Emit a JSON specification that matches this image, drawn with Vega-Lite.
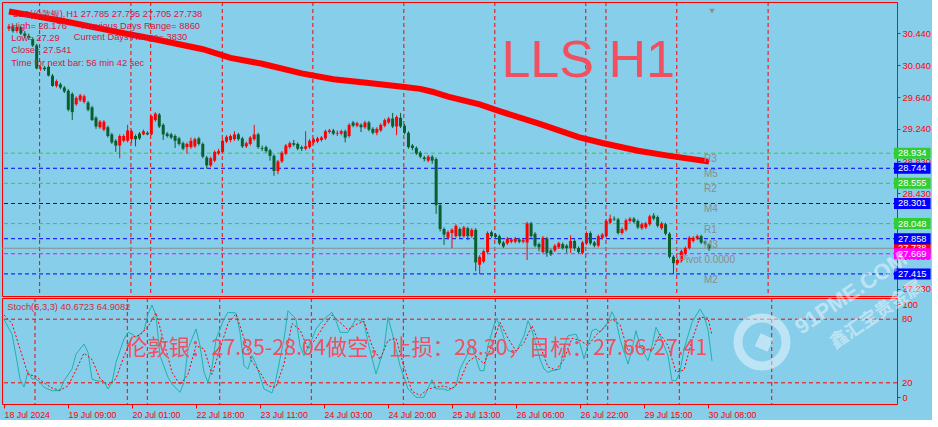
{
"$schema": "https://vega.github.io/schema/vega-lite/v6.json",
"background": "#87CEEB",
"padding": {"left": -4, "top": -1, "right": 0, "bottom": 0},
"spacing": 2,
"bounds": "flush",
"config": {
  "view": {"stroke": "#FF0000", "strokeWidth": 1},
  "font": "Liberation Sans",
  "axis": {"labelFont": "Liberation Sans", "labelColor": "#FF0000", "tickColor": "#FF0000", "domain": false, "grid": false, "labelOverlap": false}
},
"datasets": {
"bars": [
{"i":0,"o":30.50,"h":30.56,"l":30.47,"c":30.53},{"i":1,"o":30.53,"h":30.55,"l":30.45,"c":30.47},{"i":2,"o":30.47,"h":30.54,"l":30.45,"c":30.52},{"i":3,"o":30.52,"h":30.53,"l":30.42,"c":30.44},{"i":4,"o":30.44,"h":30.47,"l":30.38,"c":30.41},{"i":5,"o":30.41,"h":30.44,"l":30.36,"c":30.39},{"i":6,"o":30.37,"h":30.39,"l":30.27,"c":30.29},{"i":7,"o":30.29,"h":30.31,"l":29.99,"c":30.00},{"i":8,"o":30.00,"h":30.03,"l":29.97,"c":30.01},{"i":9,"o":30.01,"h":30.03,"l":29.97,"c":29.99},
{"i":10,"o":30.02,"h":30.04,"l":29.90,"c":29.91},{"i":11,"o":29.91,"h":29.93,"l":29.77,"c":29.78},{"i":12,"o":29.78,"h":29.86,"l":29.76,"c":29.84},{"i":13,"o":29.80,"h":29.82,"l":29.74,"c":29.76},{"i":14,"o":29.76,"h":29.78,"l":29.69,"c":29.71},{"i":15,"o":29.72,"h":29.74,"l":29.46,"c":29.48},{"i":16,"o":29.68,"h":29.70,"l":29.35,"c":29.45},{"i":17,"o":29.55,"h":29.65,"l":29.53,"c":29.63},{"i":18,"o":29.60,"h":29.68,"l":29.58,"c":29.66},{"i":19,"o":29.58,"h":29.67,"l":29.56,"c":29.65},
{"i":20,"o":29.57,"h":29.59,"l":29.46,"c":29.48},{"i":21,"o":29.51,"h":29.53,"l":29.34,"c":29.35},{"i":22,"o":29.38,"h":29.40,"l":29.24,"c":29.27},{"i":23,"o":29.26,"h":29.35,"l":29.24,"c":29.33},{"i":24,"o":29.23,"h":29.35,"l":29.21,"c":29.33},{"i":25,"o":29.26,"h":29.28,"l":29.13,"c":29.15},{"i":26,"o":29.17,"h":29.19,"l":29.05,"c":29.07},{"i":27,"o":29.09,"h":29.11,"l":28.95,"c":29.03},{"i":28,"o":29.03,"h":29.17,"l":28.87,"c":29.15},{"i":29,"o":29.09,"h":29.17,"l":29.07,"c":29.15},
{"i":30,"o":29.09,"h":29.29,"l":29.07,"c":29.22},{"i":31,"o":29.11,"h":29.23,"l":29.06,"c":29.21},{"i":32,"o":29.15,"h":29.17,"l":29.02,"c":29.11},{"i":33,"o":29.18,"h":29.20,"l":29.10,"c":29.12},{"i":34,"o":29.17,"h":29.23,"l":29.16,"c":29.21},{"i":35,"o":29.19,"h":29.21,"l":29.16,"c":29.17},{"i":36,"o":29.17,"h":29.41,"l":29.16,"c":29.40},{"i":37,"o":29.35,"h":29.45,"l":29.33,"c":29.43},{"i":38,"o":29.42,"h":29.44,"l":29.25,"c":29.27},{"i":39,"o":29.29,"h":29.31,"l":29.10,"c":29.17},
{"i":40,"o":29.18,"h":29.20,"l":29.13,"c":29.15},{"i":41,"o":29.17,"h":29.19,"l":29.11,"c":29.13},{"i":42,"o":29.15,"h":29.17,"l":29.00,"c":29.09},{"i":43,"o":29.12,"h":29.14,"l":29.03,"c":29.05},{"i":44,"o":29.06,"h":29.08,"l":28.97,"c":28.99},{"i":45,"o":29.01,"h":29.07,"l":28.93,"c":29.05},{"i":46,"o":29.01,"h":29.13,"l":28.99,"c":29.09},{"i":47,"o":29.02,"h":29.13,"l":29.00,"c":29.11},{"i":48,"o":29.12,"h":29.14,"l":29.03,"c":29.05},{"i":49,"o":29.05,"h":29.07,"l":28.87,"c":28.89},
{"i":50,"o":28.88,"h":28.90,"l":28.74,"c":28.78},{"i":51,"o":28.78,"h":28.89,"l":28.76,"c":28.87},{"i":52,"o":28.84,"h":28.97,"l":28.82,"c":28.95},{"i":53,"o":28.93,"h":28.99,"l":28.91,"c":28.96},{"i":54,"o":28.95,"h":29.11,"l":28.93,"c":29.09},{"i":55,"o":29.08,"h":29.16,"l":29.06,"c":29.14},{"i":56,"o":29.10,"h":29.17,"l":29.07,"c":29.15},{"i":57,"o":29.11,"h":29.21,"l":29.09,"c":29.17},{"i":58,"o":29.17,"h":29.19,"l":29.09,"c":29.11},{"i":59,"o":29.12,"h":29.14,"l":29.00,"c":29.02},
{"i":60,"o":29.02,"h":29.08,"l":29.00,"c":29.06},{"i":61,"o":29.05,"h":29.15,"l":29.03,"c":29.13},{"i":62,"o":29.11,"h":29.29,"l":29.09,"c":29.17},{"i":63,"o":29.17,"h":29.19,"l":28.99,"c":29.01},{"i":64,"o":29.00,"h":29.03,"l":28.96,"c":28.99},{"i":65,"o":29.01,"h":29.03,"l":28.94,"c":28.96},{"i":66,"o":28.97,"h":28.99,"l":28.84,"c":28.90},{"i":67,"o":28.90,"h":28.92,"l":28.65,"c":28.71},{"i":68,"o":28.71,"h":28.85,"l":28.67,"c":28.83},{"i":69,"o":28.83,"h":28.96,"l":28.81,"c":28.94},
{"i":70,"o":28.93,"h":29.05,"l":28.91,"c":29.03},{"i":71,"o":29.01,"h":29.08,"l":28.99,"c":29.06},{"i":72,"o":29.06,"h":29.10,"l":29.02,"c":29.04},{"i":73,"o":29.05,"h":29.07,"l":28.97,"c":28.99},{"i":74,"o":29.01,"h":29.03,"l":28.96,"c":28.99},{"i":75,"o":28.99,"h":29.21,"l":28.97,"c":29.02},{"i":76,"o":29.01,"h":29.11,"l":28.99,"c":29.09},{"i":77,"o":29.07,"h":29.13,"l":29.04,"c":29.11},{"i":78,"o":29.08,"h":29.14,"l":29.06,"c":29.12},{"i":79,"o":29.10,"h":29.15,"l":29.08,"c":29.13},
{"i":80,"o":29.12,"h":29.23,"l":29.10,"c":29.21},{"i":81,"o":29.20,"h":29.24,"l":29.18,"c":29.22},{"i":82,"o":29.22,"h":29.24,"l":29.16,"c":29.18},{"i":83,"o":29.18,"h":29.22,"l":29.15,"c":29.19},{"i":84,"o":29.18,"h":29.23,"l":29.16,"c":29.21},{"i":85,"o":29.21,"h":29.23,"l":29.07,"c":29.13},{"i":86,"o":29.15,"h":29.31,"l":29.13,"c":29.29},{"i":87,"o":29.32,"h":29.34,"l":29.26,"c":29.28},{"i":88,"o":29.28,"h":29.33,"l":29.26,"c":29.31},{"i":89,"o":29.29,"h":29.31,"l":29.20,"c":29.26},
{"i":90,"o":29.26,"h":29.34,"l":29.24,"c":29.32},{"i":91,"o":29.32,"h":29.34,"l":29.21,"c":29.23},{"i":92,"o":29.24,"h":29.26,"l":29.17,"c":29.19},{"i":93,"o":29.19,"h":29.26,"l":29.16,"c":29.24},{"i":94,"o":29.22,"h":29.31,"l":29.20,"c":29.29},{"i":95,"o":29.28,"h":29.37,"l":29.26,"c":29.35},{"i":96,"o":29.32,"h":29.39,"l":29.30,"c":29.37},{"i":97,"o":29.37,"h":29.44,"l":29.25,"c":29.27},{"i":98,"o":29.27,"h":29.41,"l":29.16,"c":29.39},{"i":99,"o":29.38,"h":29.44,"l":29.25,"c":29.27},
{"i":100,"o":29.28,"h":29.30,"l":29.17,"c":29.19},{"i":101,"o":29.19,"h":29.21,"l":28.99,"c":29.01},{"i":102,"o":29.03,"h":29.05,"l":28.97,"c":29.00},{"i":103,"o":29.00,"h":29.02,"l":28.91,"c":28.93},{"i":104,"o":28.94,"h":28.96,"l":28.87,"c":28.89},{"i":105,"o":28.88,"h":28.90,"l":28.83,"c":28.86},{"i":106,"o":28.84,"h":28.91,"l":28.82,"c":28.89},{"i":107,"o":28.89,"h":28.91,"l":28.80,"c":28.84},{"i":108,"o":28.86,"h":28.88,"l":28.17,"c":28.28},{"i":109,"o":28.28,"h":28.30,"l":27.95,"c":27.98},
{"i":110,"o":27.98,"h":28.00,"l":27.78,"c":27.91},{"i":111,"o":27.87,"h":27.96,"l":27.85,"c":27.94},{"i":112,"o":27.93,"h":27.99,"l":27.74,"c":27.97},{"i":113,"o":27.89,"h":28.04,"l":27.87,"c":28.02},{"i":114,"o":27.98,"h":28.00,"l":27.87,"c":27.89},{"i":115,"o":27.89,"h":28.02,"l":27.87,"c":28.00},{"i":116,"o":27.99,"h":28.01,"l":27.84,"c":27.89},{"i":117,"o":27.89,"h":27.99,"l":27.87,"c":27.97},{"i":118,"o":27.97,"h":27.99,"l":27.45,"c":27.56},{"i":119,"o":27.53,"h":27.65,"l":27.41,"c":27.63},
{"i":120,"o":27.57,"h":27.72,"l":27.55,"c":27.70},{"i":121,"o":27.69,"h":27.95,"l":27.67,"c":27.93},{"i":122,"o":27.94,"h":27.96,"l":27.87,"c":27.89},{"i":123,"o":27.91,"h":27.93,"l":27.86,"c":27.88},{"i":124,"o":27.89,"h":27.91,"l":27.78,"c":27.80},{"i":125,"o":27.81,"h":27.83,"l":27.74,"c":27.76},{"i":126,"o":27.80,"h":27.88,"l":27.78,"c":27.86},{"i":127,"o":27.82,"h":27.87,"l":27.80,"c":27.85},{"i":128,"o":27.82,"h":27.88,"l":27.80,"c":27.86},{"i":129,"o":27.85,"h":27.87,"l":27.80,"c":27.82},
{"i":130,"o":27.82,"h":27.86,"l":27.80,"c":27.84},{"i":131,"o":27.81,"h":28.07,"l":27.59,"c":28.05},{"i":132,"o":28.05,"h":28.07,"l":27.87,"c":27.89},{"i":133,"o":27.92,"h":27.94,"l":27.75,"c":27.77},{"i":134,"o":27.79,"h":27.81,"l":27.70,"c":27.75},{"i":135,"o":27.69,"h":27.89,"l":27.67,"c":27.87},{"i":136,"o":27.86,"h":27.88,"l":27.63,"c":27.68},{"i":137,"o":27.71,"h":27.73,"l":27.64,"c":27.66},{"i":138,"o":27.71,"h":27.79,"l":27.69,"c":27.77},{"i":139,"o":27.75,"h":27.82,"l":27.73,"c":27.80},
{"i":140,"o":27.79,"h":27.81,"l":27.72,"c":27.74},{"i":141,"o":27.77,"h":27.79,"l":27.68,"c":27.74},{"i":142,"o":27.74,"h":27.90,"l":27.68,"c":27.83},{"i":143,"o":27.83,"h":27.85,"l":27.71,"c":27.74},{"i":144,"o":27.74,"h":27.76,"l":27.67,"c":27.69},{"i":145,"o":27.68,"h":27.83,"l":27.66,"c":27.81},{"i":146,"o":27.80,"h":27.95,"l":27.78,"c":27.93},{"i":147,"o":27.93,"h":27.95,"l":27.78,"c":27.80},{"i":148,"o":27.81,"h":27.83,"l":27.75,"c":27.77},{"i":149,"o":27.77,"h":27.91,"l":27.75,"c":27.89},
{"i":150,"o":27.87,"h":27.93,"l":27.85,"c":27.91},{"i":151,"o":27.89,"h":28.10,"l":27.87,"c":28.08},{"i":152,"o":28.06,"h":28.16,"l":28.04,"c":28.11},{"i":153,"o":28.11,"h":28.14,"l":28.08,"c":28.10},{"i":154,"o":28.10,"h":28.12,"l":27.91,"c":27.93},{"i":155,"o":27.93,"h":28.00,"l":27.91,"c":27.98},{"i":156,"o":27.97,"h":28.11,"l":27.95,"c":28.09},{"i":157,"o":28.08,"h":28.13,"l":28.06,"c":28.11},{"i":158,"o":28.11,"h":28.13,"l":28.05,"c":28.07},{"i":159,"o":28.08,"h":28.10,"l":27.98,"c":28.00},
{"i":160,"o":27.99,"h":28.06,"l":27.97,"c":28.04},{"i":161,"o":28.00,"h":28.07,"l":27.98,"c":28.05},{"i":162,"o":28.04,"h":28.16,"l":28.02,"c":28.14},{"i":163,"o":28.15,"h":28.18,"l":28.09,"c":28.11},{"i":164,"o":28.13,"h":28.15,"l":28.00,"c":28.02},{"i":165,"o":27.99,"h":28.07,"l":27.97,"c":28.05},{"i":166,"o":28.04,"h":28.06,"l":27.90,"c":27.92},{"i":167,"o":27.92,"h":27.94,"l":27.61,"c":27.63},{"i":168,"o":27.63,"h":27.65,"l":27.41,"c":27.55},{"i":169,"o":27.55,"h":27.61,"l":27.53,"c":27.59},
{"i":170,"o":27.58,"h":27.72,"l":27.56,"c":27.70},{"i":171,"o":27.67,"h":27.76,"l":27.65,"c":27.74},{"i":172,"o":27.74,"h":27.89,"l":27.72,"c":27.87},{"i":173,"o":27.83,"h":27.89,"l":27.81,"c":27.87},{"i":174,"o":27.86,"h":27.91,"l":27.84,"c":27.89},{"i":175,"o":27.89,"h":27.91,"l":27.79,"c":27.81},{"i":176,"o":27.82,"h":27.83,"l":27.78,"c":27.80},{"i":177,"o":27.785,"h":27.795,"l":27.705,"c":27.738}
],
"ma": [
{"i":0,"m":30.716},{"i":7,"m":30.655},{"i":14,"m":30.594},{"i":26,"m":30.473},{"i":36,"m":30.376},{"i":49,"m":30.242},{"i":56,"m":30.132},{"i":64,"m":30.059},{"i":74,"m":29.938},{"i":82,"m":29.865},{"i":91,"m":29.816},{"i":100,"m":29.767},{"i":104,"m":29.743},{"i":107,"m":29.707},{"i":111,"m":29.646},{"i":119,"m":29.548},{"i":124,"m":29.463},{"i":134,"m":29.305},{"i":144,"m":29.135},{"i":150,"m":29.062},{"i":159,"m":28.964},{"i":167,"m":28.90},{"i":177,"m":28.83}
],
"seps": [{"i":7.75},{"i":30.83},{"i":35.83},{"i":53.93},{"i":76.83},{"i":99.83},{"i":122.83},{"i":145.83},{"i":150.93},{"i":168.83},{"i":191.93}],
"levels": [
{"name":"R3","p":28.934,"kind":"R"},{"name":"M5","p":28.744,"kind":"M"},{"name":"R2","p":28.555,"kind":"R"},{"name":"M4","p":28.301,"kind":"M"},{"name":"R1","p":28.048,"kind":"R"},{"name":"M3","p":27.858,"kind":"M"},{"name":"Pivot  0.0000","p":27.669,"kind":"P"},{"name":"M2","p":27.415,"kind":"M"}
],
"bid": [{"p":27.738,"kind":"B"}],
"stochk": [
{"i":0,"k":80},{"i":1,"k":72.6},{"i":2,"k":66},{"i":3,"k":45.6},{"i":4,"k":23.6},{"i":5,"k":16},{"i":6,"k":30.5},{"i":7,"k":23.6},{"i":8,"k":23.6},{"i":9,"k":20.4},{"i":10,"k":15.7},{"i":12,"k":12.6},{"i":14,"k":12.6},{"i":15,"k":22},{"i":17,"k":33},{"i":18,"k":47},{"i":20,"k":56.6},{"i":21,"k":48.7},{"i":22,"k":23.6},{"i":23,"k":22},{"i":25,"k":21},{"i":26,"k":14.2},{"i":27,"k":20.4},{"i":28,"k":39.3},{"i":30,"k":61.3},{"i":31,"k":67.6},{"i":32,"k":66},{"i":33,"k":62.9},{"i":35,"k":69.2},{"i":36,"k":84.9},{"i":37,"k":93.4},{"i":38,"k":83.3},{"i":39,"k":45.6},{"i":41,"k":25.2},{"i":42,"k":18.9},{"i":44,"k":11},{"i":45,"k":20.4},{"i":46,"k":51.9},{"i":48,"k":70.8},{"i":49,"k":55},{"i":50,"k":29.9},{"i":51,"k":20.4},{"i":52,"k":34.6},{"i":53,"k":61.3},{"i":55,"k":80.2},{"i":56,"k":86.5},{"i":58,"k":85.8},{"i":59,"k":67.6},{"i":60,"k":36.2},{"i":61,"k":33},{"i":62,"k":45.6},{"i":63,"k":37.7},{"i":65,"k":14.2},{"i":67,"k":10.4},{"i":68,"k":23.6},{"i":70,"k":61.3},{"i":71,"k":88},{"i":73,"k":80.2},{"i":74,"k":55},{"i":75,"k":45.6},{"i":77,"k":61.3},{"i":78,"k":70.8},{"i":80,"k":80.2},{"i":82,"k":86.5},{"i":83,"k":78.6},{"i":84,"k":67.6},{"i":86,"k":67.6},{"i":87,"k":73.9},{"i":88,"k":80.2},{"i":90,"k":77.1},{"i":91,"k":58.2},{"i":93,"k":28.3},{"i":95,"k":51.9},{"i":96,"k":81.8},{"i":97,"k":67.6},{"i":99,"k":36.2},{"i":101,"k":14.2},{"i":103,"k":6.3},{"i":105,"k":6.3},{"i":107,"k":22.9},{"i":108,"k":14.2},{"i":110,"k":14.2},{"i":111,"k":12.6},{"i":113,"k":17.3},{"i":114,"k":33},{"i":116,"k":48},{"i":117,"k":55},{"i":119,"k":31.4},{"i":120,"k":31.4},{"i":121,"k":55},{"i":123,"k":80.8},{"i":124,"k":73.9},{"i":126,"k":50.3},{"i":128,"k":48.7},{"i":130,"k":64.4},{"i":131,"k":78.6},{"i":132,"k":69.2},{"i":134,"k":42.5},{"i":135,"k":33},{"i":136,"k":29.9},{"i":137,"k":31.4},{"i":139,"k":33},{"i":140,"k":53.5},{"i":141,"k":64.4},{"i":143,"k":66},{"i":144,"k":56.6},{"i":145,"k":42.5},{"i":147,"k":69.2},{"i":148,"k":70.8},{"i":149,"k":67.6},{"i":151,"k":77.1},{"i":152,"k":87.1},{"i":153,"k":78.6},{"i":154,"k":61.3},{"i":156,"k":37.7},{"i":157,"k":51.9},{"i":158,"k":69.2},{"i":159,"k":55},{"i":161,"k":40.9},{"i":162,"k":55},{"i":163,"k":72.4},{"i":164,"k":64.4},{"i":166,"k":45.6},{"i":167,"k":22},{"i":168,"k":22},{"i":169,"k":29.9},{"i":170,"k":51.9},{"i":172,"k":77.1},{"i":174,"k":89.6},{"i":175,"k":83.3},{"i":176,"k":70},{"i":177,"k":40.67}
],
"stochd": [
{"i":0,"d":84},{"i":2,"d":76},{"i":4,"d":52},{"i":6,"d":28},{"i":8,"d":26},{"i":10,"d":20},{"i":12,"d":15},{"i":14,"d":13},{"i":16,"d":17},{"i":18,"d":32},{"i":20,"d":48},{"i":22,"d":42},{"i":24,"d":24},{"i":26,"d":18},{"i":28,"d":24},{"i":30,"d":45},{"i":32,"d":63},{"i":34,"d":65},{"i":36,"d":73},{"i":38,"d":86},{"i":40,"d":58},{"i":42,"d":30},{"i":44,"d":18},{"i":46,"d":28},{"i":48,"d":55},{"i":50,"d":52},{"i":52,"d":28},{"i":54,"d":52},{"i":56,"d":76},{"i":58,"d":85},{"i":60,"d":62},{"i":62,"d":40},{"i":64,"d":30},{"i":66,"d":17},{"i":68,"d":16},{"i":70,"d":38},{"i":72,"d":76},{"i":74,"d":70},{"i":76,"d":52},{"i":78,"d":62},{"i":80,"d":74},{"i":82,"d":84},{"i":84,"d":77},{"i":86,"d":70},{"i":88,"d":75},{"i":90,"d":78},{"i":92,"d":55},{"i":94,"d":42},{"i":96,"d":60},{"i":98,"d":62},{"i":100,"d":35},{"i":102,"d":12},{"i":104,"d":8},{"i":106,"d":14},{"i":108,"d":16},{"i":110,"d":17},{"i":112,"d":14},{"i":114,"d":22},{"i":116,"d":40},{"i":118,"d":45},{"i":120,"d":38},{"i":122,"d":55},{"i":124,"d":77},{"i":126,"d":62},{"i":128,"d":50},{"i":130,"d":58},{"i":132,"d":74},{"i":134,"d":55},{"i":136,"d":35},{"i":138,"d":32},{"i":140,"d":42},{"i":142,"d":62},{"i":144,"d":60},{"i":146,"d":55},{"i":148,"d":65},{"i":150,"d":72},{"i":152,"d":80},{"i":154,"d":75},{"i":156,"d":50},{"i":158,"d":55},{"i":160,"d":52},{"i":162,"d":50},{"i":164,"d":66},{"i":166,"d":55},{"i":168,"d":30},{"i":170,"d":32},{"i":172,"d":60},{"i":174,"d":82},{"i":176,"d":81},{"i":177,"d":64.91}
],
"slevels": [{"lv":80},{"lv":20}]
},
"vconcat": [
{
"width": 895, "height": 294,
"layer": [
{"data": {"name": "seps"}, "mark": {"type": "rule", "color": "#FF0000", "strokeDash": [4, 3], "strokeWidth": 1},
 "encoding": {"x": {"field": "i", "type": "quantitative", "scale": {"domain": [-0.5, 223.25], "nice": false, "zero": false}, "axis": null}}},
{"data": {"name": "levels"}, "mark": {"type": "rule", "strokeDash": [4, 3], "strokeWidth": 1},
 "encoding": {
  "y": {"field": "p", "type": "quantitative", "scale": {"domain": [27.2, 30.773], "nice": false, "zero": false},
        "axis": {"orient": "right", "title": null, "values": [30.44, 30.04, 29.64, 29.24, 28.83, 28.43, 27.63, 27.23], "format": ".3f", "labelFontSize": 9.3, "tickSize": 3, "labelPadding": 2, "labelFlush": false, "labelOverlap": false}},
  "color": {"field": "kind", "type": "nominal", "scale": {"domain": ["R", "M", "P", "B"], "range": ["#32CD32", "#0000FF", "#FF00FF", "#FF0000"]}, "legend": null}}},
{"data": {"name": "bid"}, "mark": {"type": "rule", "color": "#8C8C8C", "strokeWidth": 1},
 "encoding": {"y": {"field": "p", "type": "quantitative", "scale": {"domain": [27.2, 30.773], "nice": false, "zero": false}}}},
{"data": {"name": "bars"}, "mark": {"type": "rule", "strokeWidth": 1},
 "encoding": {
  "x": {"field": "i", "type": "quantitative", "scale": {"domain": [-0.5, 223.25], "nice": false, "zero": false}, "axis": null},
  "y": {"field": "l", "type": "quantitative", "scale": {"domain": [27.2, 30.773], "nice": false, "zero": false}},
  "y2": {"field": "h"},
  "color": {"condition": {"test": "datum.c > datum.o", "value": "#FF0000"}, "value": "#0A5F2D"}}},
{"data": {"name": "bars"}, "mark": {"type": "bar", "size": 3, "orient": "vertical"},
 "encoding": {
  "x": {"field": "i", "type": "quantitative", "scale": {"domain": [-0.5, 223.25], "nice": false, "zero": false}, "axis": null},
  "y": {"field": "o", "type": "quantitative", "scale": {"domain": [27.2, 30.773], "nice": false, "zero": false}},
  "y2": {"field": "c"},
  "color": {"condition": {"test": "datum.c > datum.o", "value": "#FF0000"}, "value": "#0A5F2D"}}},
{"data": {"name": "ma"}, "mark": {"type": "line", "color": "#FF0000", "strokeWidth": 6},
 "encoding": {
  "x": {"field": "i", "type": "quantitative", "scale": {"domain": [-0.5, 223.25], "nice": false, "zero": false}, "axis": null},
  "y": {"field": "m", "type": "quantitative", "scale": {"domain": [27.2, 30.773], "nice": false, "zero": false}}}},
{"data": {"name": "levels"}, "transform": [{"filter": "datum.kind != 'P'"}],
 "mark": {"type": "text", "align": "left", "baseline": "top", "dy": 1, "fontSize": 10, "color": "#8C8C8C"},
 "encoding": {
  "x": {"datum": 175.7, "type": "quantitative", "scale": {"domain": [-0.5, 223.25], "nice": false, "zero": false}, "axis": null},
  "y": {"field": "p", "type": "quantitative", "scale": {"domain": [27.2, 30.773], "nice": false, "zero": false}},
  "text": {"field": "name"}}},
{"data": {"name": "levels"}, "transform": [{"filter": "datum.kind == 'P'"}],
 "mark": {"type": "text", "align": "left", "baseline": "top", "dy": 1, "fontSize": 10, "color": "#8C8C8C"},
 "encoding": {
  "x": {"datum": 169.5, "type": "quantitative", "scale": {"domain": [-0.5, 223.25], "nice": false, "zero": false}, "axis": null},
  "y": {"field": "p", "type": "quantitative", "scale": {"domain": [27.2, 30.773], "nice": false, "zero": false}},
  "text": {"field": "name"}}},
{"data": {"values": [{}]},
 "mark": {"type": "text", "align": "right", "baseline": "middle", "fontSize": 9.3, "color": "#DC143C", "text": "LLS(伦敦银),"},
 "encoding": {
  "x": {"datum": 14.25, "type": "quantitative", "scale": {"domain": [-0.5, 223.25], "nice": false, "zero": false}, "axis": null},
  "y": {"datum": 30.69, "type": "quantitative", "scale": {"domain": [27.2, 30.773], "nice": false, "zero": false}}}},
{"data": {"values": [{}]},
 "mark": {"type": "text", "align": "left", "baseline": "middle", "fontSize": 9.3, "color": "#DC143C", "text": "H1  27.785 27.795 27.705 27.738"},
 "encoding": {
  "x": {"datum": 14.5, "type": "quantitative", "scale": {"domain": [-0.5, 223.25], "nice": false, "zero": false}, "axis": null},
  "y": {"datum": 30.69, "type": "quantitative", "scale": {"domain": [27.2, 30.773], "nice": false, "zero": false}}}},
{"data": {"values": [{}]},
 "mark": {"type": "text", "align": "left", "baseline": "middle", "fontSize": 9.3, "lineHeight": 12.23, "color": "#DC143C", "text": ["High= 28.176", "Low= 27.29", "Close= 27.541", "Time for next bar: 56 min 42 sec"]},
 "encoding": {
  "x": {"datum": 0.58, "type": "quantitative", "scale": {"domain": [-0.5, 223.25], "nice": false, "zero": false}, "axis": null},
  "y": {"datum": 30.536, "type": "quantitative", "scale": {"domain": [27.2, 30.773], "nice": false, "zero": false}}}},
{"data": {"values": [{}]},
 "mark": {"type": "text", "align": "left", "baseline": "middle", "fontSize": 9.3, "color": "#DC143C", "text": "Previous Days Range= 8860"},
 "encoding": {
  "x": {"datum": 18.3, "type": "quantitative", "scale": {"domain": [-0.5, 223.25], "nice": false, "zero": false}, "axis": null},
  "y": {"datum": 30.536, "type": "quantitative", "scale": {"domain": [27.2, 30.773], "nice": false, "zero": false}}}},
{"data": {"values": [{}]},
 "mark": {"type": "text", "align": "left", "baseline": "middle", "fontSize": 9.3, "color": "#DC143C", "text": "Current Days Range= 3830"},
 "encoding": {
  "x": {"datum": 16.4, "type": "quantitative", "scale": {"domain": [-0.5, 223.25], "nice": false, "zero": false}, "axis": null},
  "y": {"datum": 30.394, "type": "quantitative", "scale": {"domain": [27.2, 30.773], "nice": false, "zero": false}}}},
{"data": {"values": [{}]},
 "mark": {"type": "text", "align": "left", "baseline": "alphabetic", "fontSize": 52, "color": "#F0505F", "text": "LLS  H1"},
 "encoding": {
  "x": {"datum": 124.5, "type": "quantitative", "scale": {"domain": [-0.5, 223.25], "nice": false, "zero": false}, "axis": null},
  "y": {"datum": 29.889, "type": "quantitative", "scale": {"domain": [27.2, 30.773], "nice": false, "zero": false}}}},
{"data": {"values": [{}]},
 "mark": {"type": "point", "shape": "triangle-down", "filled": true, "color": "#8C8C8C", "size": 30, "opacity": 1},
 "encoding": {
  "x": {"datum": 177.75, "type": "quantitative", "scale": {"domain": [-0.5, 223.25], "nice": false, "zero": false}, "axis": null},
  "y": {"datum": 30.72, "type": "quantitative", "scale": {"domain": [27.2, 30.773], "nice": false, "zero": false}}}},
{"data": {"name": "bid"}, "mark": {"type": "bar", "orient": "horizontal", "size": 11},
 "encoding": {
  "x": {"datum": 223.75, "type": "quantitative", "scale": {"domain": [-0.5, 223.25], "nice": false, "zero": false}, "axis": null},
  "x2": {"datum": 233},
  "y": {"field": "p", "type": "quantitative", "scale": {"domain": [27.2, 30.773], "nice": false, "zero": false}},
  "color": {"field": "kind", "type": "nominal", "scale": {"domain": ["R", "M", "P", "B"], "range": ["#32CD32", "#0000FF", "#FF00FF", "#FF0000"]}, "legend": null}}},
{"data": {"name": "bid"}, "mark": {"type": "text", "align": "center", "baseline": "middle", "fontSize": 9.3, "color": "#FFFFFF"},
 "encoding": {
  "x": {"datum": 228.375, "type": "quantitative", "scale": {"domain": [-0.5, 223.25], "nice": false, "zero": false}, "axis": null},
  "y": {"field": "p", "type": "quantitative", "scale": {"domain": [27.2, 30.773], "nice": false, "zero": false}},
  "text": {"field": "p", "format": ".3f"}}},
{"data": {"name": "levels"}, "mark": {"type": "bar", "orient": "horizontal", "size": 11},
 "encoding": {
  "x": {"datum": 223.75, "type": "quantitative", "scale": {"domain": [-0.5, 223.25], "nice": false, "zero": false}, "axis": null},
  "x2": {"datum": 233},
  "y": {"field": "p", "type": "quantitative", "scale": {"domain": [27.2, 30.773], "nice": false, "zero": false}},
  "color": {"field": "kind", "type": "nominal", "scale": {"domain": ["R", "M", "P", "B"], "range": ["#32CD32", "#0000FF", "#FF00FF", "#FF0000"]}, "legend": null}}},
{"data": {"name": "levels"}, "mark": {"type": "text", "align": "center", "baseline": "middle", "fontSize": 9.3, "color": "#FFFFFF"},
 "encoding": {
  "x": {"datum": 228.375, "type": "quantitative", "scale": {"domain": [-0.5, 223.25], "nice": false, "zero": false}, "axis": null},
  "y": {"field": "p", "type": "quantitative", "scale": {"domain": [27.2, 30.773], "nice": false, "zero": false}},
  "text": {"field": "p", "format": ".3f"}}}
]
},
{
"width": 895, "height": 106,
"layer": [
{"data": {"name": "seps"}, "mark": {"type": "rule", "color": "#FF0000", "strokeDash": [4, 3], "strokeWidth": 1},
 "encoding": {"x": {"field": "i", "type": "quantitative", "scale": {"domain": [-0.5, 223.25], "nice": false, "zero": false},
   "axis": {"orient": "bottom", "title": null, "values": [0, 16, 32, 48, 64, 80, 96, 112, 128, 144, 160, 176],
     "labelExpr": "['18 Jul 2024','19 Jul 09:00','20 Jul 01:00','22 Jul 18:00','23 Jul 11:00','24 Jul 03:00','24 Jul 20:00','25 Jul 13:00','26 Jul 06:00','26 Jul 22:00','29 Jul 15:00','30 Jul 08:00'][round(datum.value/16)]",
     "labelAlign": "left", "labelBaseline": "top", "labelPadding": 2, "tickSize": 4, "labelFontSize": 8.8, "labelFlush": false, "labelBound": false, "labelOverlap": false}}}},
{"data": {"name": "slevels"}, "mark": {"type": "rule", "color": "#FF0000", "strokeDash": [4, 3], "strokeWidth": 1},
 "encoding": {"y": {"field": "lv", "type": "quantitative", "scale": {"domain": [0, 100], "nice": false, "zero": false},
   "axis": {"orient": "right", "title": null, "values": [94, 80, 20, 6.5], "labelExpr": "datum.value > 90 ? '100' : (datum.value < 10 ? '0' : format(datum.value, 'd'))", "labelFontSize": 9.3, "tickSize": 3, "labelPadding": 2, "labelFlush": false, "labelOverlap": false, "labelBaseline": "middle"}}}},
{"data": {"name": "slevels"}, "mark": {"type": "text", "align": "left", "baseline": "middle", "fontSize": 9.3, "color": "#FF0000"},
 "encoding": {
  "x": {"datum": 224.5, "type": "quantitative", "scale": {"domain": [-0.5, 223.25], "nice": false, "zero": false}},
  "y": {"field": "lv", "type": "quantitative", "scale": {"domain": [0, 100], "nice": false, "zero": false}},
  "text": {"field": "lv"}}},
{"data": {"name": "stochk"}, "mark": {"type": "line", "color": "#20B2AA", "strokeWidth": 1},
 "encoding": {
  "x": {"field": "i", "type": "quantitative", "scale": {"domain": [-0.5, 223.25], "nice": false, "zero": false}},
  "y": {"field": "k", "type": "quantitative", "scale": {"domain": [0, 100], "nice": false, "zero": false}}}},
{"data": {"name": "stochd"}, "mark": {"type": "line", "color": "#FF0000", "strokeWidth": 1, "strokeDash": [2, 2]},
 "encoding": {
  "x": {"field": "i", "type": "quantitative", "scale": {"domain": [-0.5, 223.25], "nice": false, "zero": false}},
  "y": {"field": "d", "type": "quantitative", "scale": {"domain": [0, 100], "nice": false, "zero": false}}}},
{"data": {"values": [{}]},
 "mark": {"type": "text", "align": "left", "baseline": "middle", "fontSize": 9.3, "color": "#D03030", "text": "Stoch(5,3,3) 40.6723 64.9082"},
 "encoding": {
  "x": {"datum": 0.83, "type": "quantitative", "scale": {"domain": [-0.5, 223.25], "nice": false, "zero": false}},
  "y": {"datum": 91.2, "type": "quantitative", "scale": {"domain": [0, 100], "nice": false, "zero": false}}}},
{"data": {"values": [{}]},
 "mark": {"type": "text", "align": "left", "baseline": "middle", "font": "Noto Sans CJK SC", "fontSize": 21.4, "color": "#F0505F", "text": "伦敦银：27.85-28.04做空，止损：28.30，目标：27.66-27.41"},
 "encoding": {
  "x": {"datum": 30.5, "type": "quantitative", "scale": {"domain": [-0.5, 223.25], "nice": false, "zero": false}},
  "y": {"datum": 51.9, "type": "quantitative", "scale": {"domain": [0, 100], "nice": false, "zero": false}}}},
{"data": {"values": [{}]},
 "mark": {"type": "point", "shape": "circle", "filled": false, "stroke": "#FFFFFF", "strokeWidth": 9, "opacity": 0.45, "size": 2304},
 "encoding": {
  "x": {"datum": 189.5, "type": "quantitative", "scale": {"domain": [-0.5, 223.25], "nice": false, "zero": false}},
  "y": {"datum": 58.5, "type": "quantitative", "scale": {"domain": [0, 100], "nice": false, "zero": false}}}},
{"data": {"values": [{}]},
 "mark": {"type": "point", "shape": "square", "filled": true, "color": "#FFFFFF", "opacity": 0.45, "size": 196, "angle": 25},
 "encoding": {
  "x": {"datum": 190, "type": "quantitative", "scale": {"domain": [-0.5, 223.25], "nice": false, "zero": false}},
  "y": {"datum": 58, "type": "quantitative", "scale": {"domain": [0, 100], "nice": false, "zero": false}}}},
{"data": {"values": [{}]},
 "mark": {"type": "text", "align": "center", "baseline": "middle", "fontSize": 22, "fontWeight": "bold", "color": "#FFFFFF", "opacity": 0.45, "angle": -34, "text": "91PME.COM"},
 "encoding": {
  "x": {"datum": 211.75, "type": "quantitative", "scale": {"domain": [-0.5, 223.25], "nice": false, "zero": false}},
  "y": {"datum": 104.7, "type": "quantitative", "scale": {"domain": [0, 100], "nice": false, "zero": false}}}},
{"data": {"values": [{}]},
 "mark": {"type": "text", "align": "center", "baseline": "middle", "font": "Noto Sans CJK SC", "fontSize": 18, "fontWeight": "bold", "color": "#FFFFFF", "opacity": 0.45, "angle": -34, "text": "鑫汇宝贵金属"},
 "encoding": {
  "x": {"datum": 218.25, "type": "quantitative", "scale": {"domain": [-0.5, 223.25], "nice": false, "zero": false}},
  "y": {"datum": 84, "type": "quantitative", "scale": {"domain": [0, 100], "nice": false, "zero": false}}}}
]
}
]
}
